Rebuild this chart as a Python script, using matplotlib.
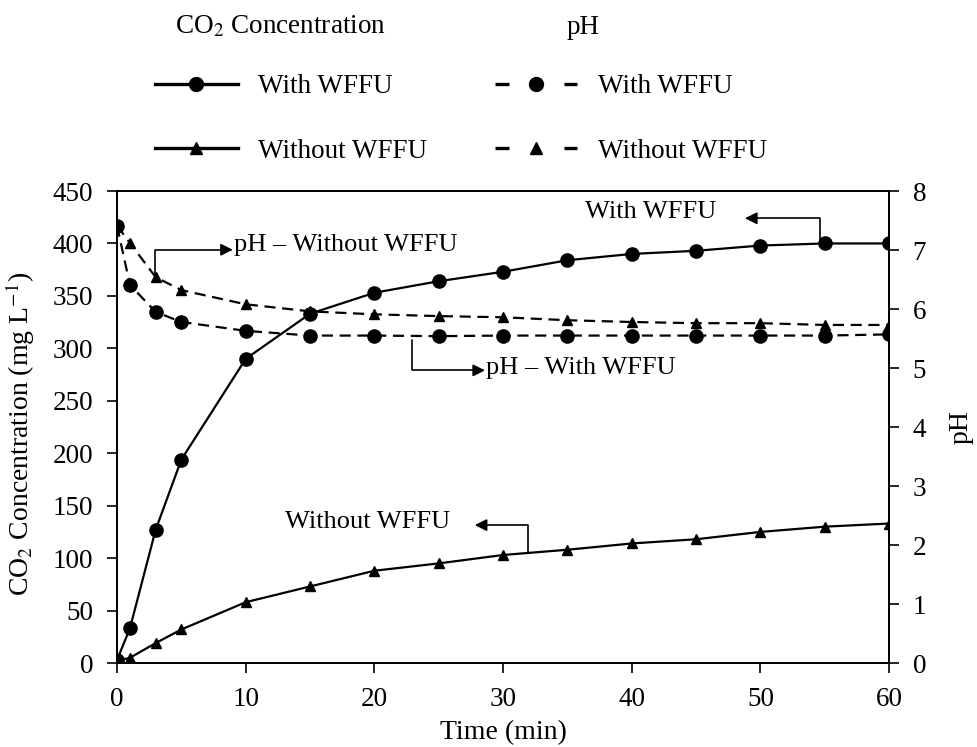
import matplotlib
matplotlib.use("Agg")
import matplotlib.pyplot as plt
from matplotlib.lines import Line2D

plt.rcParams['font.family'] = ['Liberation Serif', 'DejaVu Serif']
plt.rcParams['mathtext.fontset'] = 'stix'
plt.rcParams['font.size'] = 19

# time points (min)
time = [0, 1, 3, 5, 10, 15, 20, 25, 30, 35, 40, 45, 50, 55, 60]

# CO2 concentration (mg/L)
co2_with = [3, 33, 127, 194, 290, 333, 353, 364, 373, 384, 390, 393, 398, 400, 400]
co2_without = [2, 5, 19, 32, 58, 73, 88, 95, 103, 108, 114, 118, 125, 130, 133]

# pH
ph_with = [7.41, 6.41, 5.95, 5.78, 5.63, 5.55, 5.55, 5.54, 5.55, 5.55, 5.55, 5.55, 5.55, 5.55, 5.57]
ph_without = [7.41, 7.12, 6.54, 6.32, 6.08, 5.96, 5.91, 5.88, 5.86, 5.81, 5.78, 5.76, 5.76, 5.73, 5.73]

x_ticks = list(range(0, 61, 10))
co2_ticks = list(range(0, 451, 50))
ph_ticks = list(range(0, 9))

fig = plt.figure(figsize=(9.77, 7.47), dpi=100)
ax = fig.add_axes([0.1198, 0.1124, 0.7902, 0.6319])
ax2 = ax.twinx()

lw = 1.6
ax.plot(time, co2_with, color='black', lw=lw, marker='o', ms=9.5, zorder=3)
ax.plot(time, co2_without, color='black', lw=lw, marker='^', ms=7.5, zorder=3)
ax2.plot(time, ph_with, color='black', lw=lw, ls=(0, (5, 3)), marker='o', ms=9.5)
ax2.plot(time, ph_without, color='black', lw=lw, ls=(0, (5, 3)), marker='^', ms=7.5)

ax.set_xlim(0, 60)
ax.set_ylim(0, 450)
ax2.set_ylim(0, 8)
ax.set_xticks(x_ticks)
ax.set_yticks(co2_ticks)
ax2.set_yticks(ph_ticks)
ax.set_xlabel('Time (min)', fontsize=20, labelpad=6)
ax.set_ylabel('CO$_2$ Concentration (mg L$^{-1}$)', fontsize=20)
ax.yaxis.set_label_coords(-0.104, 0.485)
ax2.set_ylabel('pH', fontsize=20, labelpad=16)

for a in (ax, ax2):
    a.tick_params(direction='out', length=7, width=1.2, pad=10, labelsize=19.5)
    for s in a.spines.values():
        s.set_linewidth(1.3)
ax.margins(0)

# annotations with elbow arrows
arrow = dict(arrowstyle='-|>', color='black', lw=1.2, shrinkA=0, shrinkB=0,
             mutation_scale=18, connectionstyle='angle,angleA=90,angleB=0,rad=0')
ax.annotate('', xy=(9.0, 394), xytext=(2.95, 366), arrowprops=arrow)
ax.text(9.1, 399, 'pH – Without WFFU', va='center', ha='left')
ax.annotate('', xy=(48.8, 424), xytext=(54.6, 403), arrowprops=arrow)
ax.text(36.4, 430, 'With WFFU', va='center', ha='left')
ax.annotate('', xy=(28.6, 279), xytext=(22.9, 308), arrowprops=arrow)
ax.text(28.7, 281, 'pH – With WFFU', va='center', ha='left')
ax.annotate('', xy=(27.8, 131.5), xytext=(31.9, 105), arrowprops=arrow)
ax.text(13.05, 134, 'Without WFFU', va='center', ha='left')

# legend at top
handles = [
    Line2D([], [], color='black', lw=2.4, marker='o', ms=10),
    Line2D([], [], color='black', lw=2.4, marker='^', ms=9),
    Line2D([], [], color='black', lw=2.4, ls=(0, (4.2, 16.5)), marker='o', ms=10),
    Line2D([], [], color='black', lw=2.4, ls=(0, (4.2, 16.5)), marker='^', ms=9),
]
labels = ['With WFFU', 'Without WFFU', 'With WFFU', 'Without WFFU']
fig.legend(handles, labels, ncol=2, loc='upper left',
           bbox_to_anchor=(155 / 977, 1 - 74 / 747), frameon=False,
           handlelength=3.05, handletextpad=0.75, labelspacing=1.46,
           columnspacing=2.5, borderpad=0, borderaxespad=0, fontsize=19.5)
fig.text(175 / 977, 1 - 27 / 747, 'CO$_2$ Concentration', fontsize=19.5, va='center')
fig.text(567 / 977, 1 - 27 / 747, 'pH', fontsize=19.5, va='center')

fig.savefig('out.png', dpi=100)
